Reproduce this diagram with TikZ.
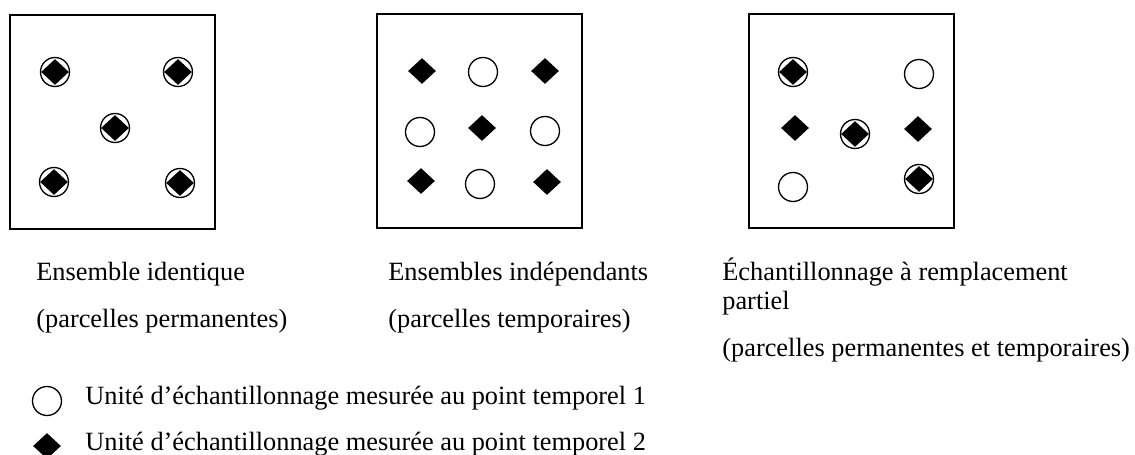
\documentclass[tikz,border=0pt]{standalone}
\usepackage{fontspec}
\setmainfont{Liberation Serif}
\usetikzlibrary{shapes.geometric}

\tikzset{
  plotframe/.style={draw, line width=1pt},
  tpone/.style={circle, draw, line width=0.75pt, minimum size=0.58cm, inner sep=0pt},
  tptwo/.style={diamond, fill=black, minimum width=0.56cm, minimum height=0.52cm, inner sep=0pt},
  lbl/.style={anchor=base west, inner sep=0pt, font=\fontsize{15}{18}\selectfont}
}

\begin{document}
\begin{tikzpicture}[x=0.02cm, y=-0.02cm]
            \useasboundingbox (0,0) rectangle (1135,455);

            % Draw the three plots
            \draw[plotframe] (10,15) rectangle (215,229);
            \draw[plotframe] (377,14) rectangle (582,228);
            \draw[plotframe] (749,14) rectangle (954,228);

            % Identical set
            \node[tpone] (a1c) at (55,72) {};
            \node[tptwo] (a1d) at (55,72) {};
            \node[tpone] (a2c) at (178,72) {};
            \node[tptwo] (a2d) at (178,72) {};
            \node[tpone] (a3c) at (115,128) {};
            \node[tptwo] (a3d) at (115,128) {};
            \node[tpone] (a4c) at (54,182) {};
            \node[tptwo] (a4d) at (54,182) {};
            \node[tpone] (a5c) at (180,183) {};
            \node[tptwo] (a5d) at (180,183) {};

            % Independent sets
            \node[tptwo] (b1) at (422,71) {};
            \node[tpone] (b2) at (483,72) {};
            \node[tptwo] (b3) at (545,71) {};
            \node[tpone] (b4) at (420,132) {};
            \node[tptwo] (b5) at (482,128) {};
            \node[tpone] (b6) at (545,131) {};
            \node[tptwo] (b7) at (421,181) {};
            \node[tpone] (b8) at (480,184) {};
            \node[tptwo] (b9) at (547,182) {};

            % Partial replacement
            \node[tpone] (c1c) at (793,72) {};
            \node[tptwo] (c1d) at (793,72) {};
            \node[tpone] (c2) at (919,74) {};
            \node[tptwo] (c3) at (795,128) {};
            \node[tpone] (c4c) at (855,134) {};
            \node[tptwo] (c4d) at (855,134) {};
            \node[tptwo] (c5) at (918,129) {};
            \node[tpone] (c6) at (793,187) {};
            \node[tpone] (c7c) at (919,179) {};
            \node[tptwo] (c7d) at (919,179) {};

            % Draw the captions
            \node[lbl] (capa1) at (36,281) {Ensemble identique};
            \node[lbl] (capa2) at (36,328) {(parcelles permanentes)};
            \node[lbl] (capb1) at (388,281) {Ensembles indépendants};
            \node[lbl] (capb2) at (388,328) {(parcelles temporaires)};
            \node[lbl] (capc1) at (722,281) {Échantillonnage à remplacement};
            \node[lbl] (capc2) at (722,310) {partiel};
            \node[lbl] (capc3) at (722,357) {(parcelles permanentes et temporaires)};

            % Draw the legend
            \node[tpone] (keyone) at (47,401) {};
            \node[lbl] (keyonetxt) at (85,405) {Unité d’échantillonnage mesurée au point temporel 1};
            \node[tptwo] (keytwo) at (47,446) {};
            \node[lbl] (keytwotxt) at (85,450) {Unité d’échantillonnage mesurée au point temporel 2};

        \end{tikzpicture}
\end{document}
